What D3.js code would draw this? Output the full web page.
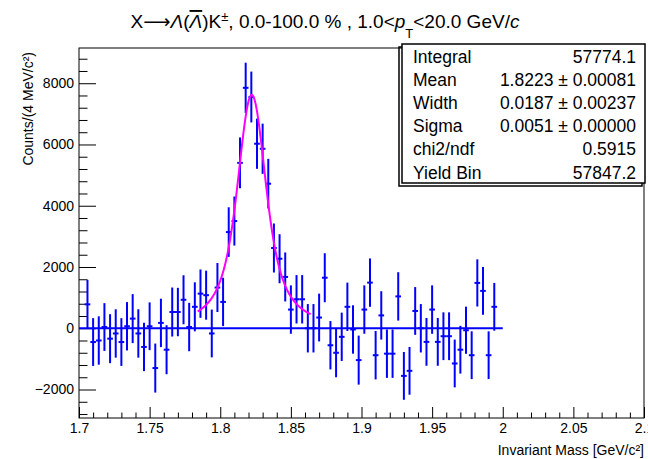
<!DOCTYPE html>
<html lang="en">

<head>
    <meta charset="UTF-8">
    <title>Invariant mass fit</title>
    <style>
        body {
            margin: 0;
            padding: 0;
            background: #fff;
        }

        svg {
            display: block;
            font-family: "Liberation Sans", Arial, Helvetica, sans-serif;
        }

        .tick text {
            font-size: 14px;
            fill: #000;
        }
    </style>
</head>

<body>

    <svg width="648" height="459"></svg>

    <script src="https://d3js.org/d3.v7.min.js"></script>
    <script>
        // histogram binning (GeV/c^2), 4 MeV bins, first filled bin 1.704-1.708
        const binStart = 1.704;
        const binWidth = 0.004;

        // bin contents, one per bin from 1.706 to 1.994
        const counts = [
            780, -450, -400, 40, -340, -170, -450, 65, 315, -170,
            -610, 65, -1300, 175, -700, 530, 530, 930, 40, 700,
            1130, 1080, -170, 1330, 860, 3140, 3500, 5400, 7850, 7550,
            6025, 5860, 4720, 2620, 2270, 1675, 610, 946, 946, 0,
            0, 350, 1650, -555, -800, -280, 700, -40, -1040, 610,
            1490, -880, 420, -830, -830, 1040, -1555, -1390, 565, 0,
            -445, 610, -445, -260, -260, -1150, -700, -65, -880, 1480,
            1220, -880, 700
        ];

        // vertical error per bin
        const errors = [
            800, 780, 790, 780, 800, 790, 780, 790, 800, 790,
            790, 780, 800, 790, 800, 800, 790, 800, 790, 800,
            790, 800, 780, 800, 790, 810, 800, 830, 820, 830,
            820, 820, 810, 800, 800, 800, 790, 790, 790, 790,
            790, 780, 800, 790, 800, 790, 790, 790, 800, 790,
            790, 790, 790, 790, 790, 790, 780, 780, 780, 790,
            780, 790, 780, 780, 780, 780, 780, 770, 780, 770,
            780, 780, 780
        ];

        // fit parameters (Voigt profile)
        const fitMean = 1.8223;
        const fitWidth = 0.0187;   // Lorentz FWHM
        const fitSigma = 0.0051;   // Gauss sigma
        const fitRange = [1.784, 1.864];
        const fitPeak = 7620;

        // stats box
        const statLabels = ["Integral", "Mean", "Width", "Sigma", "chi2/ndf", "Yield Bin"];
        const statValues = ["57774.1", "1.8223 \u00b1 0.00081", "0.0187 \u00b1 0.00237",
            "0.0051 \u00b1 0.00000", "0.5915", "57847.2"];

        // axes
        const xTicks = [1.7, 1.75, 1.8, 1.85, 1.9, 1.95, 2.0, 2.05, 2.1];
        const xTickLabels = ["1.7", "1.75", "1.8", "1.85", "1.9", "1.95", "2", "2.05", "2.1"];
        const yTicks = [-2000, 0, 2000, 4000, 6000, 8000];
        const yTickLabels = ["\u22122000", "0", "2000", "4000", "6000", "8000"];
        const xDomain = [1.7, 2.1];
        const yDomain = [-2930, 9150];
        const zeroLineRange = [1.7, 2.0];

        const svg = d3.select("svg");

        // frame in pixels
        const frame = { left: 79, right: 644, top: 48, bottom: 418 };

        const x = d3.scaleLinear().domain(xDomain).range([frame.left, frame.right]);
        const y = d3.scaleLinear().domain(yDomain).range([frame.bottom, frame.top]);

        // minor ticks
        const xMinor = d3.range(1.7, 2.1001, 0.01).filter(v => !xTicks.some(t => Math.abs(t - v) < 1e-6));
        const yMinor = d3.range(-2800, 9150, 400).filter(v => v % 2000 !== 0);

        svg.append("g")
            .attr("transform", `translate(0,${frame.bottom})`)
            .call(d3.axisBottom(x).tickValues(xMinor).tickSizeInner(-5.5).tickSizeOuter(0).tickFormat(""));
        svg.append("g")
            .attr("transform", `translate(0,${frame.bottom})`)
            .call(d3.axisBottom(x).tickValues(xTicks).tickSizeInner(-11).tickSizeOuter(0)
                .tickPadding(5).tickFormat((d, i) => xTickLabels[i]));

        svg.append("g")
            .attr("transform", `translate(${frame.left},0)`)
            .call(d3.axisLeft(y).tickValues(yMinor).tickSizeInner(-8.5).tickSizeOuter(0).tickFormat(""));
        svg.append("g")
            .attr("transform", `translate(${frame.left},0)`)
            .call(d3.axisLeft(y).tickValues(yTicks).tickSizeInner(-17).tickSizeOuter(0)
                .tickPadding(5).tickFormat((d, i) => yTickLabels[i]));

        svg.selectAll(".domain").remove();
        svg.selectAll(".tick line").attr("stroke", "#000").attr("stroke-width", 1);

        // frame
        svg.append("rect")
            .attr("x", frame.left)
            .attr("y", frame.top)
            .attr("width", frame.right - frame.left)
            .attr("height", frame.bottom - frame.top)
            .attr("fill", "none")
            .attr("stroke", "#000")
            .attr("stroke-width", 1);

        // axis titles
        svg.append("text")
            .attr("x", frame.right)
            .attr("y", 455)
            .attr("text-anchor", "end")
            .style("font-size", "14px")
            .text("Invariant Mass [GeV/c\u00b2]");

        svg.append("text")
            .attr("transform", `translate(33,${frame.top + 4}) rotate(-90)`)
            .attr("text-anchor", "end")
            .style("font-size", "14px")
            .text("Counts/(4 MeV/c\u00b2)");

        // histogram points with errors
        const bins = counts.map((c, i) => ({
            lo: binStart + i * binWidth,
            hi: binStart + (i + 1) * binWidth,
            mid: binStart + (i + 0.5) * binWidth,
            v: c,
            e: errors[i]
        }));

        const pts = svg.append("g").attr("stroke", "#0000ff").attr("stroke-width", 2);

        pts.selectAll(".ey")
            .data(bins)
            .enter()
            .append("line")
            .attr("class", "ey")
            .attr("x1", d => x(d.mid))
            .attr("x2", d => x(d.mid))
            .attr("y1", d => y(d.v - d.e))
            .attr("y2", d => y(d.v + d.e));

        pts.selectAll(".ex")
            .data(bins)
            .enter()
            .append("line")
            .attr("class", "ex")
            .attr("x1", d => x(d.lo))
            .attr("x2", d => x(d.hi))
            .attr("y1", d => y(d.v))
            .attr("y2", d => y(d.v));

        // zero line
        svg.append("line")
            .attr("x1", x(zeroLineRange[0]))
            .attr("x2", x(zeroLineRange[1]))
            .attr("y1", y(0))
            .attr("y2", y(0))
            .attr("stroke", "#0000ff")
            .attr("stroke-width", 2);

        // Voigt profile by numerical convolution
        function voigt(dx) {
            const g = fitWidth / 2;
            const n = 240;
            const lim = 6 * fitSigma;
            const step = 2 * lim / n;
            let s = 0;
            for (let k = 0; k <= n; k++) {
                const t = -lim + k * step;
                const gauss = Math.exp(-0.5 * (t / fitSigma) ** 2);
                const lor = g / ((dx - t) ** 2 + g * g);
                s += gauss * lor;
            }
            return s;
        }

        const v0 = voigt(0);
        const fitPts = d3.range(0, 201).map(i => {
            const m = fitRange[0] + (fitRange[1] - fitRange[0]) * i / 200;
            return [m, fitPeak * voigt(m - fitMean) / v0];
        });

        svg.append("path")
            .datum(fitPts)
            .attr("fill", "none")
            .attr("stroke", "#ff00ff")
            .attr("stroke-width", 2)
            .attr("d", d3.line().x(d => x(d[0])).y(d => y(d[1])));

        // stats box with shadow
        const box = { left: 402, top: 44, right: 645, bottom: 183 };
        svg.append("rect")
            .attr("x", box.left - 3)
            .attr("y", box.top + 3)
            .attr("width", box.right - box.left)
            .attr("height", box.bottom - box.top)
            .attr("fill", "none")
            .attr("stroke", "#000")
            .attr("stroke-width", 1.5);
        svg.append("rect")
            .attr("x", box.left)
            .attr("y", box.top)
            .attr("width", box.right - box.left)
            .attr("height", box.bottom - box.top)
            .attr("fill", "#fff")
            .attr("stroke", "#000")
            .attr("stroke-width", 1.5);

        const rowY = i => 62.5 + i * 23.2;
        svg.selectAll(".stat-label")
            .data(statLabels)
            .enter()
            .append("text")
            .attr("class", "stat-label")
            .attr("x", 413)
            .attr("y", (d, i) => rowY(i))
            .style("font-size", "17.5px")
            .text(d => d);
        svg.selectAll(".stat-value")
            .data(statValues)
            .enter()
            .append("text")
            .attr("class", "stat-value")
            .attr("x", 636)
            .attr("y", (d, i) => rowY(i))
            .attr("text-anchor", "end")
            .style("font-size", "17.5px")
            .text(d => d);

        // title
        const title = svg.append("text")
            .attr("x", 325)
            .attr("y", 28)
            .attr("text-anchor", "middle")
            .style("font-size", "19px");
        title.append("tspan").text("X");
        title.append("tspan").style("font-family", "DejaVu Sans").text("\u27f6");
        title.append("tspan").style("font-style", "italic").text("\u039b");
        title.append("tspan").text("(");
        title.append("tspan").style("font-style", "italic").attr("text-decoration", "overline").text("\u039b");
        title.append("tspan").text(")K");
        title.append("tspan").attr("dy", -7).style("font-size", "13px").text("\u00b1");
        title.append("tspan").attr("dy", 7).text(", 0.0-100.0 % , 1.0<");
        title.append("tspan").style("font-style", "italic").text("p");
        title.append("tspan").attr("dy", 10).style("font-size", "13px").text("T");
        title.append("tspan").attr("dy", -10).text("<20.0 GeV/");
        title.append("tspan").style("font-style", "italic").text("c");
    </script>

</body>

</html>
